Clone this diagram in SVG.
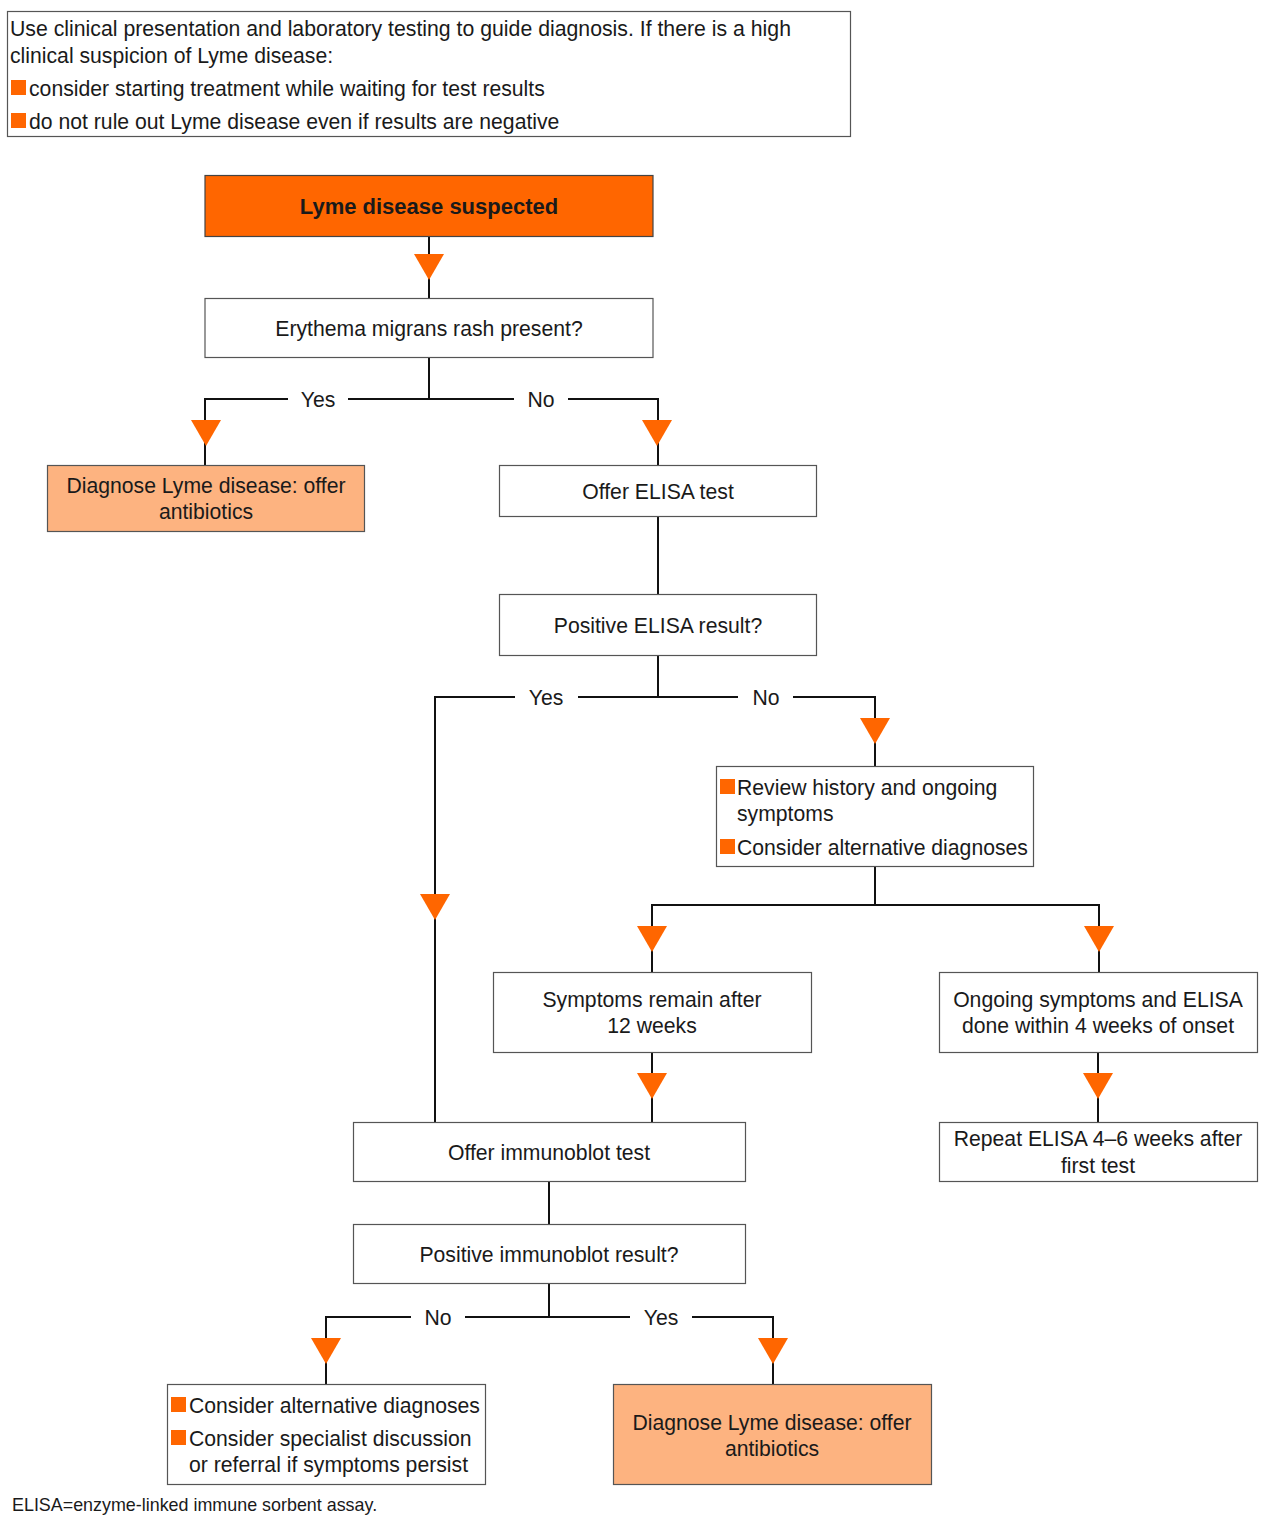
<svg xmlns="http://www.w3.org/2000/svg" width="1280" height="1536" viewBox="0 0 1280 1536">
<style>
text{font-family:"Liberation Sans",Arial,sans-serif;font-size:21.2px;fill:#1a1a1a}
.c{text-anchor:middle}
.b{font-weight:bold;font-size:22px}
.box{fill:#fff;stroke:#555;stroke-width:1.2}
.hot{fill:#FF6600;stroke:#444;stroke-width:1.2}
.lt{fill:#FDB380;stroke:#555;stroke-width:1.2}
.ln{stroke:#111;stroke-width:2;fill:none}
.ar{fill:#FF6600}
.bul{fill:#FF6600}
.foot{font-size:17.9px}
</style>
<defs>
<path id="tri" d="M-15,0 L15,0 L0,26 Z" class="ar"/>
</defs>
<g id="connectors">
<path class="ln" d="M429,236 V298"/>
<path class="ln" d="M429,357 V399 M205,465 V399 H288 M348,399 H514 M568,399 H658 V465"/>
<path class="ln" d="M658,516 V594"/>
<path class="ln" d="M658,655 V697 M435,1122 V697 H515 M578,697 H738 M793,697 H875 V766"/>
<path class="ln" d="M875,866 V905 M652,972 V905 H1099 V972"/>
<path class="ln" d="M652,1052 V1122 M1098,1052 V1122"/>
<path class="ln" d="M549,1181 V1224"/>
<path class="ln" d="M549,1283 V1317 M326,1384 V1317 H411 M465,1317 H630 M692,1317 H773 V1384"/>
<use href="#tri" x="429" y="254"/>
<use href="#tri" x="206" y="420"/>
<use href="#tri" x="657" y="420"/>
<use href="#tri" x="875" y="718"/>
<use href="#tri" x="435" y="894"/>
<use href="#tri" x="652" y="926"/>
<use href="#tri" x="1099" y="926"/>
<use href="#tri" x="652" y="1073"/>
<use href="#tri" x="1098" y="1073"/>
<use href="#tri" x="326" y="1338"/>
<use href="#tri" x="773" y="1338"/>
<text class="c" x="318" y="407">Yes</text>
<text class="c" x="541" y="407">No</text>
<text class="c" x="546" y="705">Yes</text>
<text class="c" x="766" y="705">No</text>
<text class="c" x="438" y="1325">No</text>
<text class="c" x="661" y="1325">Yes</text>
</g>
<g id="note">
<rect class="box" x="7.5" y="11.5" width="843" height="125"/>
<text x="10" y="36" textLength="781" lengthAdjust="spacingAndGlyphs">Use clinical presentation and laboratory testing to guide diagnosis. If there is a high</text>
<text x="10" y="63">clinical suspicion of Lyme disease:</text>
<rect class="bul" x="11" y="80" width="15" height="15"/>
<text x="29" y="96">consider starting treatment while waiting for test results</text>
<rect class="bul" x="11" y="113" width="15" height="15"/>
<text x="29" y="129">do not rule out Lyme disease even if results are negative</text>
</g>
<g id="n-suspected">
<rect class="hot" x="205" y="175.5" width="448" height="61"/>
<text class="c b" x="429" y="214">Lyme disease suspected</text>
</g>
<g id="n-rash">
<rect class="box" x="205" y="298.5" width="448" height="59"/>
<text class="c" x="429" y="336">Erythema migrans rash present?</text>
</g>
<g id="n-diag1">
<rect class="lt" x="47.5" y="465.5" width="317" height="66"/>
<text class="c" x="206" y="493">Diagnose Lyme disease: offer</text>
<text class="c" x="206" y="519">antibiotics</text>
</g>
<g id="n-elisa">
<rect class="box" x="499.5" y="465.5" width="317" height="51"/>
<text class="c" x="658" y="499">Offer ELISA test</text>
</g>
<g id="n-poselisa">
<rect class="box" x="499.5" y="594.5" width="317" height="61"/>
<text class="c" x="658" y="633">Positive ELISA result?</text>
</g>
<g id="n-review">
<rect class="box" x="716.5" y="766.5" width="317" height="100"/>
<rect class="bul" x="720" y="779" width="15" height="15"/>
<text x="737" y="795">Review history and ongoing</text>
<text x="737" y="821">symptoms</text>
<rect class="bul" x="720" y="839" width="15" height="15"/>
<text x="737" y="855">Consider alternative diagnoses</text>
</g>
<g id="n-remain">
<rect class="box" x="493.5" y="972.5" width="318" height="80"/>
<text class="c" x="652" y="1007">Symptoms remain after</text>
<text class="c" x="652" y="1033">12 weeks</text>
</g>
<g id="n-ongoing">
<rect class="box" x="939.5" y="972.5" width="318" height="80"/>
<text class="c" x="1098" y="1007">Ongoing symptoms and ELISA</text>
<text class="c" x="1098" y="1033">done within 4 weeks of onset</text>
</g>
<g id="n-immuno">
<rect class="box" x="353.5" y="1122.5" width="392" height="59"/>
<text class="c" x="549" y="1160">Offer immunoblot test</text>
</g>
<g id="n-repeat">
<rect class="box" x="939.5" y="1122.5" width="318" height="59"/>
<text class="c" x="1098" y="1146">Repeat ELISA 4–6 weeks after</text>
<text class="c" x="1098" y="1173">first test</text>
</g>
<g id="n-posimmuno">
<rect class="box" x="353.5" y="1224.5" width="392" height="59"/>
<text class="c" x="549" y="1262">Positive immunoblot result?</text>
</g>
<g id="n-consider">
<rect class="box" x="167.5" y="1384.5" width="318" height="100"/>
<rect class="bul" x="171" y="1397" width="15" height="15"/>
<text x="189" y="1413">Consider alternative diagnoses</text>
<rect class="bul" x="171" y="1430" width="15" height="15"/>
<text x="189" y="1446">Consider specialist discussion</text>
<text x="189" y="1472">or referral if symptoms persist</text>
</g>
<g id="n-diag2">
<rect class="lt" x="613.5" y="1384.5" width="318" height="100"/>
<text class="c" x="772" y="1430">Diagnose Lyme disease: offer</text>
<text class="c" x="772" y="1456">antibiotics</text>
</g>
<text class="foot" x="12" y="1511">ELISA=enzyme-linked immune sorbent assay.</text>
</svg>
